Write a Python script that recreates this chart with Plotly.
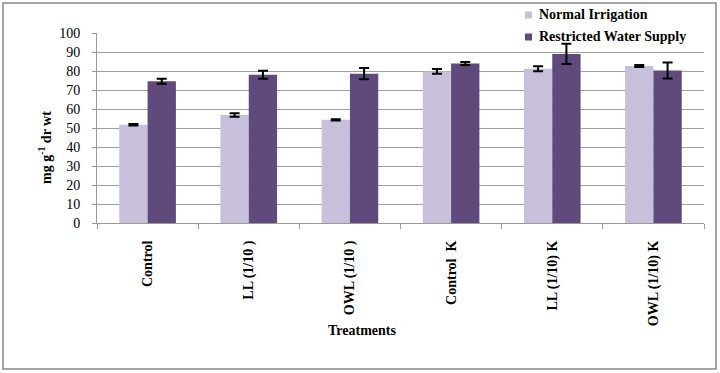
import plotly.graph_objects as go

categories = ["Control", "LL (1/10 )", "OWL (1/10 )", "Control  K", "LL (1/10) K", "OWL (1/10) K"]
normal_vals = [51.7, 56.8, 54.3, 79.8, 81.2, 82.6]
normal_err = [0.4, 0.9, 0.3, 1.2, 1.3, 0.5]
restricted_vals = [74.6, 78.0, 78.6, 84.0, 89.0, 80.3]
restricted_err = [1.3, 2.1, 3.0, 0.8, 5.3, 4.2]
series_names = ["Normal Irrigation", "Restricted Water Supply"]
series_colors = ["#C8C0DA", "#604A7B"]
y_ticks = list(range(0, 101, 10))

serif = "Liberation Serif, Times New Roman, serif"

fig = go.Figure()
for name, vals, errs, col in zip(series_names, [normal_vals, restricted_vals],
                                 [normal_err, restricted_err], series_colors):
    fig.add_trace(go.Bar(
        x=categories, y=vals, name=name, showlegend=False,
        marker=dict(color=col, line=dict(width=0)),
        error_y=dict(type="data", array=errs, color="black", thickness=2, width=5),
    ))

L, R, T, B = 97, 16, 33, 150
W, H = 720, 373
pw, ph = W - L - R, H - T - B

def px(x):
    return (x - L) / pw

def py(y):
    return (H - B - y) / ph

shapes = [dict(
    type="rect", xref="paper", yref="paper",
    x0=px(3), x1=px(716), y0=py(369), y1=py(3),
    line=dict(color="#888888", width=1.5), fillcolor="rgba(0,0,0,0)", layer="below",
)]
annotations = []
leg_y = [15, 37]
for name, col, yy in zip(series_names, series_colors, leg_y):
    shapes.append(dict(
        type="rect", xref="paper", yref="paper",
        x0=px(525), x1=px(532), y0=py(yy + 3.5), y1=py(yy - 3.5),
        line=dict(width=0), fillcolor=col,
    ))
    annotations.append(dict(
        text=name, xref="paper", yref="paper", x=px(537), y=py(yy),
        xanchor="left", yanchor="middle", showarrow=False,
        font=dict(family=serif, size=14, color="black", weight="bold"),
    ))
annotations.append(dict(
    text="mg g<sup>-1</sup> dr wt", xref="paper", yref="paper",
    x=px(45), y=py(147), textangle=-90, showarrow=False,
    xanchor="center", yanchor="middle",
    font=dict(family=serif, size=14, color="black", weight="bold"),
))
annotations.append(dict(
    text="Treatments", xref="paper", yref="paper",
    x=px(362), y=py(330), showarrow=False,
    xanchor="center", yanchor="middle",
    font=dict(family=serif, size=14, color="black", weight="bold"),
))

fig.update_layout(
    width=W, height=H,
    margin=dict(l=L, r=R, t=T, b=B, pad=0, autoexpand=False),
    paper_bgcolor="white", plot_bgcolor="white",
    barmode="group", bargap=0.44, bargroupgap=0,
    font=dict(family=serif, color="black"),
    showlegend=False,
    xaxis=dict(
        type="category", showgrid=False, automargin=False,
        showline=True, linecolor="#999999", linewidth=1,
        ticks="outside", tickson="boundaries", ticklen=5, tickcolor="#999999",
        tickangle=-90, ticklabelstandoff=11,
        tickfont=dict(family=serif, size=14, color="black", weight="bold"),
    ),
    yaxis=dict(
        range=[0, 100], tickvals=y_ticks, automargin=False,
        showgrid=True, gridcolor="#A0A0A0", gridwidth=1,
        showline=True, linecolor="#999999", linewidth=1,
        ticks="outside", ticklen=4, tickcolor="#999999",
        ticklabelstandoff=9,
        tickfont=dict(family=serif, size=14, color="black"),
        zeroline=False,
    ),
    shapes=shapes,
    annotations=annotations,
)

fig.write_html("out.html", config={"displayModeBar": False},
               post_script="document.body.style.margin='0';")
